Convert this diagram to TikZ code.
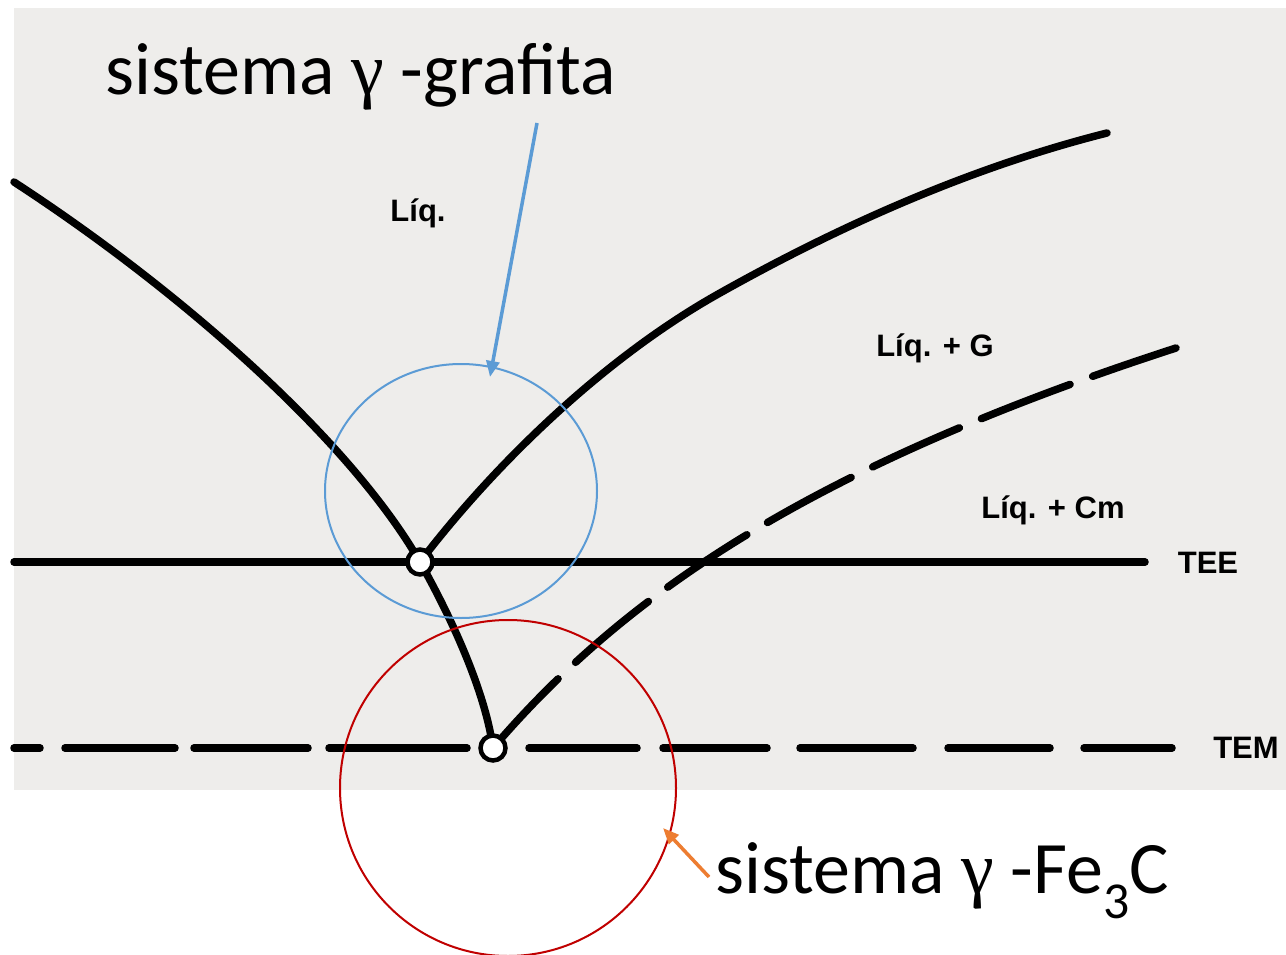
\documentclass[tikz,border=0pt]{standalone}
\usepackage{fontspec}
\setmainfont{Carlito}
\newfontfamily\labfont{Liberation Sans}
\newfontfamily\greekfont{Liberation Serif}
\usetikzlibrary{arrows.meta,shapes.geometric}
\definecolor{paper}{RGB}{238,237,235}
\definecolor{bluecirc}{RGB}{91,155,213}
\definecolor{redcirc}{RGB}{192,0,0}
\definecolor{orangearr}{RGB}{237,125,49}
\begin{document}
\begin{tikzpicture}[x=1pt,y=-1pt,
  curve/.style={line width=7.5pt,line cap=round,line join=round},
  junction/.style={circle,draw,line width=4.5pt,fill=white,minimum size=25pt,inner sep=0pt},
  phase/.style={font=\labfont\bfseries\fontsize{31}{31}\selectfont,inner sep=0pt},
  title/.style={font=\fontsize{74}{74}\selectfont,inner sep=0pt,anchor=base west},
  ring/.style={line width=2pt,inner sep=0pt},
  pointer/.style={line width=3.5pt,-{Triangle[length=16pt,width=13pt]}}]
\useasboundingbox (0,0) rectangle (1286,955);
\fill[white] (0,0) rectangle (1286,955);
\fill[paper] (14,8) rectangle (1286,790);
% key points
\coordinate (e1) at (420,562);
\coordinate (e2) at (493,748);
\coordinate (lq0) at (14,182);
\coordinate (rq1) at (720,293);
\coordinate (rq2) at (1107,133);
\coordinate (sd1) at (1176,348);
\coordinate (teeL) at (14,562);
\coordinate (teeR) at (1145,562);
% liquidus / solidus curves
\draw[curve] (lq0) .. controls (180,290) and (350,440) .. (e1)
             .. controls (450,615) and (485,690) .. (e2);
\draw[curve] (e1) .. controls (490,470) and (600,360) .. (rq1)
             .. controls (850,220) and (980,165) .. (rq2);
\draw[curve,dash pattern=on 95pt off 24pt] (e2) .. controls (620,600) and (800,470) .. (sd1);
% TEE
\draw[curve] (teeL) -- (teeR);
% TEM dashed
\foreach \a/\b in {14/40,65/175,194/308,329/467,529/637,663/767,800/913,948/1050,1084/1172}
  \draw[curve] (\a,748) -- (\b,748);
% junctions
\node[junction] (j1) at (e1) {};
\node[junction] (j2) at (e2) {};
% labels
\node[phase] (liq) at (418,213) {Líq.};
\node[phase] (liqG) at (935,348) {Líq. + G};
\node[phase] (liqCm) at (1053,510) {Líq. + Cm};
\node[phase] (tee) at (1208,563) {TEE};
\node[phase] (tem) at (1246,748) {TEM};
% highlight circles
\node[ring,draw=bluecirc,ellipse,minimum width=272pt,minimum height=254pt] (bc) at (461,491) {};
\node[ring,draw=redcirc,circle,minimum size=336pt] (rc) at (508,788) {};
% titles
\node[title] (t1) at (105,95) {sistema {\greekfont γ} -grafita};
\node[title] (t2) at (715,893) {sistema {\greekfont γ} -Fe\textsubscript{3}C};
\coordinate (a1s) at (537,123);
\coordinate (a1e) at (490,377);
\coordinate (a2s) at (709,877);
\coordinate (a2e) at (663,828);
\draw[pointer,bluecirc] (a1s) -- (a1e);
\draw[pointer,orangearr] (a2s) -- (a2e);
\end{tikzpicture}
\end{document}
